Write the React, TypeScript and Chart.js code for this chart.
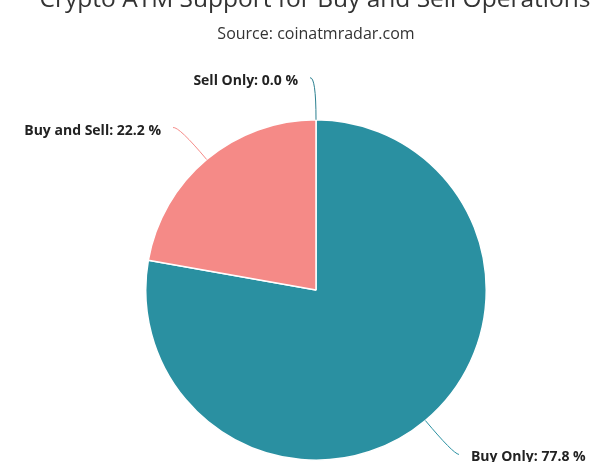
import React, { useEffect, useRef } from "react";
import { Chart, registerables } from "chart.js";

Chart.register(...registerables);

const titleText = "Crypto ATM Support for Buy and Sell Operations";
const subtitleText = "Source: coinatmradar.com";
const categories = ["Buy Only", "Buy and Sell", "Sell Only"];
const shares = [77.8, 22.2, 0.0];
const sliceColors = ["#2a90a1", "#f58a87", "#2a7f8f"];

const labelPlugin = {
  id: "pieLabels",
  afterDraw(chart: any) {
    const ctx = chart.ctx;
    const meta = chart.getDatasetMeta(0);
    ctx.save();
    ctx.fillStyle = "#333333";
    ctx.textAlign = "center";
    ctx.textBaseline = "alphabetic";
    ctx.font = "24.5px 'Open Sans'";
    ctx.fillText(titleText, 315, 7);
    ctx.font = "16px 'Open Sans'";
    ctx.fillText(subtitleText, 316, 39);

    meta.data.forEach((arc: any, i: number) => {
      const { x, y, outerRadius, startAngle, endAngle } = arc.getProps(
        ["x", "y", "outerRadius", "startAngle", "endAngle"],
        true
      );
      const mid = (startAngle + endAngle) / 2;
      const cx = Math.cos(mid);
      const cy = Math.sin(mid);
      const side = cx > 1e-6 ? 1 : -1;
      const ex = x + outerRadius * cx;
      const ey = y + outerRadius * cy;
      const d = outerRadius + 43;
      const kx = x + d * cx;
      const ky = y + d * cy;
      ctx.strokeStyle = sliceColors[i];
      ctx.lineWidth = 1;
      ctx.beginPath();
      ctx.moveTo(ex, ey);
      ctx.quadraticCurveTo(kx, ky, kx + side * 6, ky + 1);
      ctx.stroke();

      ctx.fillStyle = "#222222";
      ctx.font = "bold 14px 'Open Sans'";
      ctx.textBaseline = "middle";
      ctx.textAlign = side > 0 ? "left" : "right";
      const label = `${categories[i]}: ${shares[i].toFixed(1)} %`;
      ctx.fillText(label, kx + side * 18, ky + 4);
    });
    ctx.restore();
  },
};

export default function App() {
  const ref = useRef<HTMLCanvasElement | null>(null);
  useEffect(() => {
    if (!ref.current) return;
    const chart = new Chart(ref.current, {
      type: "pie",
      data: {
        labels: categories,
        datasets: [
          {
            data: shares,
            backgroundColor: sliceColors,
            borderColor: "#ffffff",
            borderWidth: 1.5,
          },
        ],
      },
      options: {
        responsive: false,
        animation: false,
        layout: { padding: { left: 145, right: 113, top: 119, bottom: 1 } },
        plugins: {
          legend: { display: false },
          title: { display: false },
          tooltip: { enabled: false },
        },
      },
      plugins: [labelPlugin],
    });
    return () => chart.destroy();
  }, []);
  return (
    <div style={{ position: "fixed", left: 0, top: 0, width: 600, height: 462, background: "#fff" }}>
      <canvas ref={ref} width={600} height={462} />
    </div>
  );
}
